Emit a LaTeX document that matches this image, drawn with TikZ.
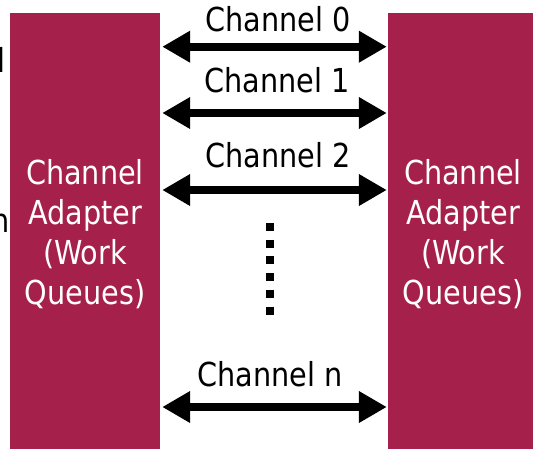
\documentclass[tikz,border=0pt]{standalone}
\usepackage{fontspec}
\setmainfont{DejaVu Sans}[FakeStretch=0.87]
\usetikzlibrary{arrows.meta}
\definecolor{adapterred}{RGB}{166,32,76}
\tikzset{
  adapter/.style={fill=adapterred, draw=none, minimum width=150pt, minimum height=447pt, inner sep=0pt},
  adaptertext/.style={text=white, align=center, font=\fontsize{33}{40}\selectfont, inner sep=0pt, anchor=north},
  chanlabel/.style={font=\fontsize{33}{40}\selectfont, inner sep=0pt, anchor=base},
  chan/.style={line width=8pt, {Triangle[length=28pt,width=30pt]}-{Triangle[length=28pt,width=30pt]}, shorten <=2pt, shorten >=1pt},
  dots/.style={line width=8pt, dash pattern=on 8pt off 8.7pt},
  cuttext/.style={font=\fontsize{33}{40}\selectfont, inner sep=0pt, anchor=base east}
}
\begin{document}
\begin{tikzpicture}[x=1pt, y=-1pt]
  \useasboundingbox (0,0) rectangle (533,448);
  \clip (0,0) rectangle (533,448);
  \fill[white] (0,0) rectangle (533,448);

  % text running in from the left edge
  \node[cuttext] (frag1) at (5.7,72) {l};
  \node[cuttext] (frag2) at (10,232) {n};

  % the two channel adapters
  \node[adapter] (la) at (85,236.5) {};
  \node[adapter] (ra) at (463,236.5) {};
  \node[adaptertext] (lat) at (85,159) {Channel\\Adapter\\(Work\\Queues)};
  \node[adaptertext] (rat) at (463,159) {Channel\\Adapter\\(Work\\Queues)};

  % channel labels
  \node[chanlabel] (c0) at (278,31.7) {Channel 0};
  \node[chanlabel] (c1) at (277,92) {Channel 1};
  \node[chanlabel] (c2) at (278,167) {Channel 2};
  \node[chanlabel] (cn) at (270,386) {Channel n};

  % channels between the adapters
  \draw[chan] (la.east |- 0,46.7) -- (ra.west |- 0,46.7);
  \draw[chan] (la.east |- 0,113) -- (ra.west |- 0,113);
  \draw[chan] (la.east |- 0,190) -- (ra.west |- 0,190);
  \draw[chan] (la.east |- 0,407) -- (ra.west |- 0,407);

  % vertical ellipsis
  \coordinate (dtop) at (270,223);
  \coordinate (dbot) at (270,315);
  \draw[dots] (dtop) -- (dbot);
\end{tikzpicture}
\end{document}
